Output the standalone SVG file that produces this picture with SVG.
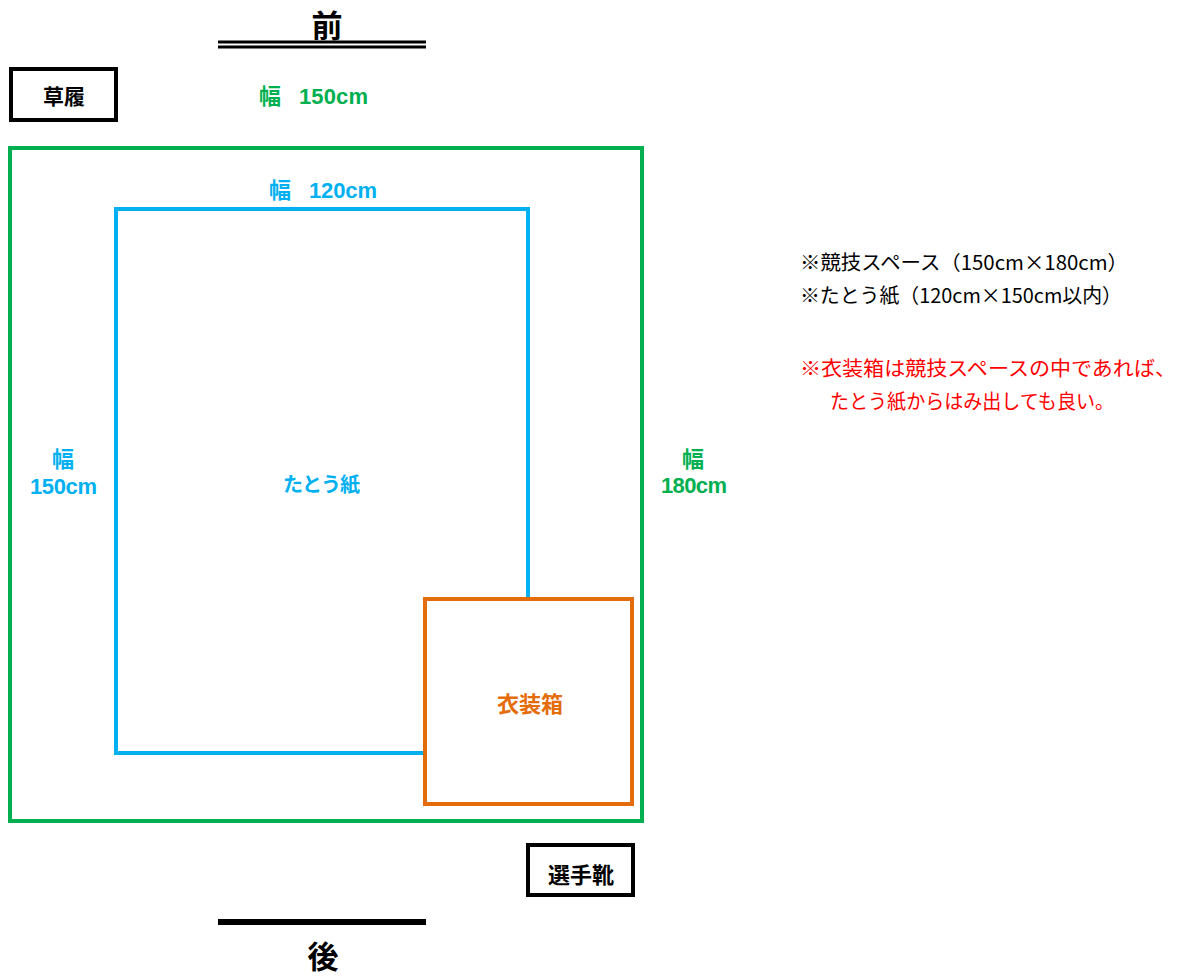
<svg xmlns="http://www.w3.org/2000/svg" width="1190" height="976" viewBox="0 0 1190 976">
<style>
text{font-family:"Liberation Sans","Noto Sans CJK JP",sans-serif}
.b{font-weight:bold}
.g{fill:#00B050}
.c{fill:#00B0F0}
.k{fill:#000}
.dim{font-size:22px;font-weight:bold}
.note{font-family:"Noto Sans CJK JP",sans-serif;font-size:20px}
</style>
<rect width="1190" height="976" fill="#fff"/>
<g id="front">
<text x="327" y="37" font-size="31" class="b k" text-anchor="middle">前</text>
<rect x="218" y="40.5" width="208" height="3" fill="#000"/>
<rect x="218" y="45.5" width="208" height="3" fill="#000"/>
</g>
<g id="zori">
<rect x="11" y="69" width="105" height="51" fill="none" stroke="#000" stroke-width="4"/>
<text x="64" y="104" font-size="21" class="b k" text-anchor="middle">草履</text>
</g>
<g id="space">
<rect x="10" y="148" width="632" height="673" fill="none" stroke="#00B050" stroke-width="4"/>
<text x="259" y="104" class="dim g">幅</text>
<text x="299" y="104" class="dim g" textLength="69">150cm</text>
<text x="693" y="467" class="dim g" text-anchor="middle">幅</text>
<text x="661" y="493" class="dim g" textLength="66">180cm</text>
</g>
<g id="tatoushi">
<rect x="116" y="209" width="412" height="544" fill="none" stroke="#00B0F0" stroke-width="4"/>
<text x="269" y="198" class="dim c">幅</text>
<text x="309" y="198" class="dim c" textLength="68">120cm</text>
<text x="63" y="467" class="dim c" text-anchor="middle">幅</text>
<text x="30" y="494" class="dim c" textLength="67">150cm</text>
<text x="283" y="492" font-size="20" class="b c" textLength="77">たとう紙</text>
</g>
<g id="ishobako">
<rect x="425" y="599" width="207" height="205" fill="#fff" stroke="#E46C0A" stroke-width="4"/>
<text x="530" y="712" font-size="22" class="b" fill="#E46C0A" text-anchor="middle">衣装箱</text>
</g>
<g id="shoes">
<rect x="528" y="845" width="105" height="50" fill="none" stroke="#000" stroke-width="4"/>
<text x="581" y="883" font-size="22" class="b k" text-anchor="middle">選手靴</text>
</g>
<g id="back">
<rect x="218" y="919" width="208" height="6" fill="#000"/>
<text x="323" y="968" font-size="31" class="b k" text-anchor="middle">後</text>
</g>
<g id="notes">
<text x="800" y="270" class="note k" textLength="328" lengthAdjust="spacingAndGlyphs">※競技スペース（150cm×180cm）</text>
<text x="800" y="303" class="note k" textLength="322" lengthAdjust="spacingAndGlyphs">※たとう紙（120cm×150cm以内）</text>
<text x="800" y="376" class="note" fill="#FF0000" textLength="376" lengthAdjust="spacingAndGlyphs">※衣装箱は競技スペースの中であれば、</text>
<text x="830" y="409" class="note" fill="#FF0000" textLength="284" lengthAdjust="spacingAndGlyphs">たとう紙からはみ出しても良い。</text>
</g>
</svg>
